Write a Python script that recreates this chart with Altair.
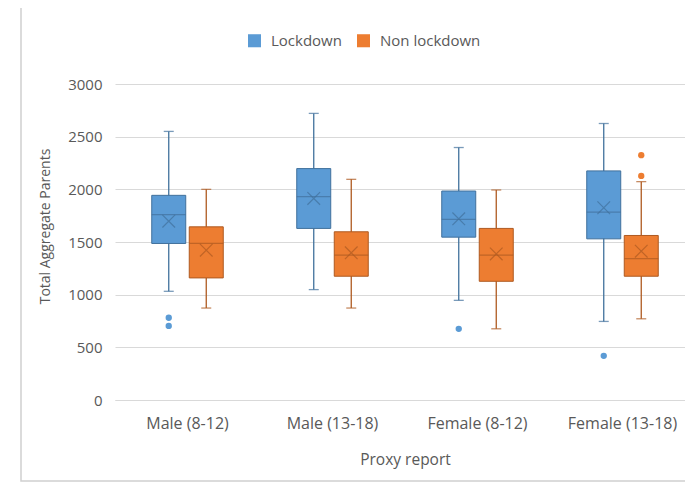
import altair as alt
import pandas as pd

groups = ["Male (8-12)", "Male (13-18)", "Female (8-12)", "Female (13-18)"]
series = ["Lockdown", "Non lockdown"]

lock_min = [1032, 1048, 946, 746]
lock_q1 = [1486, 1629, 1546, 1530]
lock_med = [1759, 1930, 1714, 1784]
lock_q3 = [1943, 2197, 1984, 2175]
lock_max = [2550, 2721, 2397, 2625]
lock_mean = [1698, 1914, 1720, 1825]

non_min = [873, 873, 676, 771]
non_q1 = [1159, 1175, 1127, 1175]
non_med = [1486, 1375, 1375, 1343]
non_q3 = [1644, 1597, 1629, 1562]
non_max = [2000, 2095, 1994, 2073]
non_mean = [1422, 1397, 1387, 1413]

out_group = ["Male (8-12)", "Male (8-12)", "Female (8-12)", "Female (13-18)", "Female (13-18)", "Female (13-18)"]
out_series = ["Lockdown", "Lockdown", "Lockdown", "Lockdown", "Non lockdown", "Non lockdown"]
out_value = [781, 703, 676, 419, 2324, 2127]

FILL = ["#5B9BD5", "#ED7D31"]
DARK_BLUE = "#41719C"
DARK_ORANGE = "#AE5A21"
FONT = "Open Sans"
GREY = "#595959"

rows = []
for i, g in enumerate(groups):
    rows.append(dict(group=g, series="Lockdown", lo=lock_min[i], q1=lock_q1[i], med=lock_med[i],
                     q3=lock_q3[i], hi=lock_max[i], mean=lock_mean[i]))
    rows.append(dict(group=g, series="Non lockdown", lo=non_min[i], q1=non_q1[i], med=non_med[i],
                     q3=non_q3[i], hi=non_max[i], mean=non_mean[i]))
stats = pd.DataFrame(rows)
outs = pd.DataFrame(dict(group=out_group, series=out_series, value=out_value))

x_enc = alt.X("group:N", sort=groups,
              scale=alt.Scale(domain=groups, range=[0, 580], paddingInner=0, paddingOuter=0),
              axis=alt.Axis(title="Proxy report", labelAngle=0, ticks=False, domain=True,
                            domainColor="#d9d9d9", labelPadding=15, titlePadding=21,
                            labelFontSize=16, titleFontSize=15.5))
xo_enc = alt.XOffset("series:N", sort=series,
                     scale=alt.Scale(domain=series, paddingInner=0, paddingOuter=0.933))
dark = alt.condition(alt.datum.series == "Lockdown", alt.value(DARK_BLUE), alt.value(DARK_ORANGE))
y_scale = alt.Scale(domain=[0, 3000])

base = alt.Chart(stats)

frame = alt.Chart(pd.DataFrame({"k": [0]})).mark_rect(
    fill=None, stroke="#d0d0d0", strokeWidth=1.5, clip=False
).encode(x=alt.value(-94), x2=alt.value(700), y=alt.value(-78), y2=alt.value(397))

whisk = base.mark_rule(strokeWidth=1.3).encode(
    x=x_enc, xOffset=xo_enc,
    y=alt.Y("lo:Q", scale=y_scale,
            axis=alt.Axis(title="Total Aggregate Parents", values=list(range(0, 3001, 500)),
                          format="d", ticks=False, domain=False, gridColor="#d9d9d9",
                          labelPadding=13, titlePadding=15, titleY=142,
                          labelFontSize=15, titleFontSize=14)),
    y2="hi:Q", color=dark)

cap_lo = base.mark_tick(size=10, thickness=1.3).encode(x=x_enc, xOffset=xo_enc, y="lo:Q", color=dark)
cap_hi = base.mark_tick(size=10, thickness=1.3).encode(x=x_enc, xOffset=xo_enc, y="hi:Q", color=dark)

box = base.mark_bar(size=34, strokeWidth=1).encode(
    x=x_enc, xOffset=xo_enc, y="q1:Q", y2="q3:Q",
    color=alt.Color("series:N", sort=series,
                    scale=alt.Scale(domain=series, range=FILL),
                    legend=alt.Legend(title=None, orient="none", direction="horizontal",
                                      legendX=132, legendY=-51, symbolType="square",
                                      symbolSize=170, symbolStrokeWidth=0,
                                      labelFontSize=15, labelFont=FONT, labelColor=GREY,
                                      labelOffset=9, columnPadding=14)),
    stroke=dark)

med = base.mark_tick(size=34, thickness=1.3).encode(x=x_enc, xOffset=xo_enc, y="med:Q", color=dark)

mean = base.mark_point(shape="M-1,-1L1,1M-1,1L1,-1", filled=False, size=160, strokeWidth=1.2).encode(
    x=x_enc, xOffset=xo_enc, y="mean:Q", color=dark)

pts = alt.Chart(outs).mark_circle(size=40, opacity=1).encode(
    x=alt.X("group:N", sort=groups,
            scale=alt.Scale(domain=groups, range=[0, 580], paddingInner=0, paddingOuter=0)),
    xOffset=xo_enc, y=alt.Y("value:Q", scale=y_scale),
    color=alt.condition(alt.datum.series == "Lockdown", alt.value(FILL[0]), alt.value(FILL[1])))

chart = alt.layer(frame, whisk, cap_lo, cap_hi, box, med, mean, pts).properties(
    width=570, height=316,
    autosize=alt.AutoSizeParams(type="none"),
    padding={"left": 107, "top": 76, "right": 0, "bottom": 82},
).configure_view(stroke=None).configure_axis(
    labelFont=FONT, titleFont=FONT,
    labelColor=GREY, titleColor=GREY, titleFontWeight="normal", grid=True
).configure_axisX(grid=False)

chart.save("out.html", embed_options={"renderer": "svg", "actions": False})
